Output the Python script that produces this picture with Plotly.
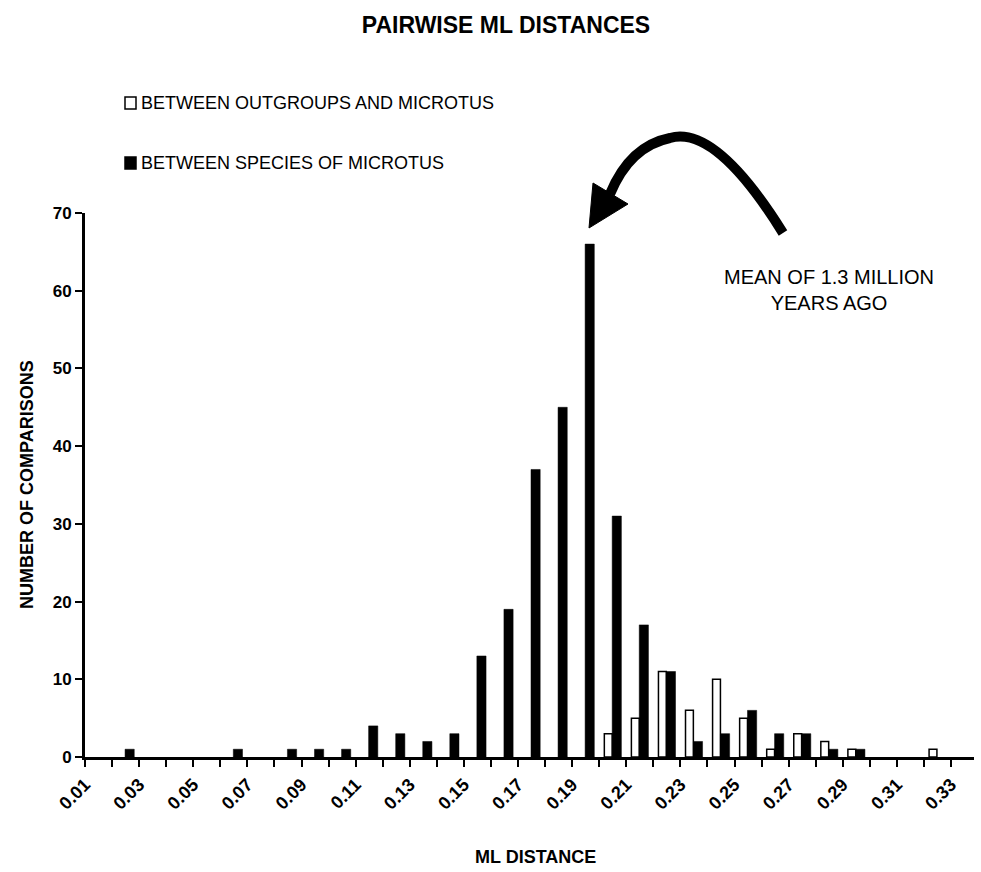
import plotly.graph_objects as go

# ---- data ----
distances = [round(0.01 * i, 2) for i in range(1, 34)]
outgroups = [0, 0, 0, 0, 0, 0, 0, 0, 0, 0,
             0, 0, 0, 0, 0, 0, 0, 0, 0, 0,
             3, 5, 11, 6, 10, 5, 1, 3, 2, 1,
             0, 0, 1]
microtus = [0, 0, 1, 0, 0, 0, 1, 0, 1, 1,
            1, 4, 3, 2, 3, 13, 19, 37, 45, 66,
            31, 17, 11, 2, 3, 6, 3, 3, 1, 1,
            0, 0, 0]
series_names = ["BETWEEN OUTGROUPS AND MICROTUS", "BETWEEN SPECIES OF MICROTUS"]
tick_labels = ["0.01", "0.03", "0.05", "0.07", "0.09", "0.11", "0.13", "0.15", "0.17",
               "0.19", "0.21", "0.23", "0.25", "0.27", "0.29", "0.31", "0.33"]
tick_vals = [float(t) for t in tick_labels]

W, H = 981, 872
L, R, T, B = 85, 7, 213, 115
XMIN, XMAX = 0.01, 0.3385
YMIN, YMAX = 0, 70
PW, PH = W - L - R, H - T - B

def fx(px):
    return (px - L) / PW

def fy(py):
    return (H - B - py) / PH

def pt(px, py):
    return f"{fx(px):.5f},{fy(py):.5f}"

FONT = "Liberation Sans, Arial, sans-serif"

fig = go.Figure()
fig.add_trace(go.Bar(
    x=distances, y=[v if v else None for v in outgroups], name=series_names[0],
    offset=-0.0081, width=0.0029,
    marker=dict(color="white", line=dict(color="black", width=1.5)),
    showlegend=False,
))
fig.add_trace(go.Bar(
    x=distances, y=[v if v else None for v in microtus], name=series_names[1],
    offset=-0.0052, width=0.0034,
    marker=dict(color="black", line=dict(color="black", width=0.5)),
    showlegend=False,
))

# curved arrow (decoration, paper coordinates)
arrow_path = ("M " + pt(783, 233) + " C " + pt(745, 172) + " " + pt(705, 128) + " " + pt(670, 138)
              + " C " + pt(640, 144) + " " + pt(622, 165) + " " + pt(610, 194))
head_path = "M " + pt(589, 228) + " L " + pt(593, 183) + " L " + pt(628, 204) + " Z"

shapes = [
    dict(type="path", xref="paper", yref="paper", path=arrow_path,
         line=dict(color="black", width=10), fillcolor="rgba(0,0,0,0)"),
    dict(type="path", xref="paper", yref="paper", path=head_path,
         line=dict(color="black", width=1), fillcolor="black"),
    # legend keys
    dict(type="rect", xref="paper", yref="paper", x0=fx(125), x1=fx(136), y0=fy(109), y1=fy(97),
         line=dict(color="black", width=1.5), fillcolor="white"),
    dict(type="rect", xref="paper", yref="paper", x0=fx(125), x1=fx(136), y0=fy(169), y1=fy(157),
         line=dict(color="black", width=1.5), fillcolor="black"),
]

annotations = [
    dict(text=series_names[0], xref="paper", yref="paper", x=fx(139), y=fy(103),
         xanchor="left", yanchor="middle", showarrow=False, font=dict(size=18)),
    dict(text=series_names[1], xref="paper", yref="paper", x=fx(139), y=fy(163),
         xanchor="left", yanchor="middle", showarrow=False, font=dict(size=18)),
    dict(text="MEAN OF 1.3 MILLION<br>YEARS AGO", xref="paper", yref="paper",
         x=fx(829), y=fy(290), xanchor="center", yanchor="middle",
         showarrow=False, font=dict(size=20), align="center"),
    dict(text="<b>NUMBER OF COMPARISONS</b>", xref="paper", yref="paper",
         x=fx(27), y=fy(485), xanchor="center", yanchor="middle",
         textangle=-90, showarrow=False, font=dict(size=18)),
    dict(text="<b>ML DISTANCE</b>", xref="paper", yref="paper",
         x=fx(535), y=fy(857), xanchor="center", yanchor="middle",
         showarrow=False, font=dict(size=18)),
]

fig.update_layout(
    width=W, height=H,
    margin=dict(l=L, r=R, t=T, b=B),
    plot_bgcolor="white", paper_bgcolor="white",
    barmode="overlay",
    showlegend=False,
    font=dict(family=FONT, color="black"),
    title=dict(text="<b>PAIRWISE ML DISTANCES</b>", x=506 / W, xanchor="center",
               y=1 - 25 / H, yanchor="middle", font=dict(size=23, color="black")),
    xaxis=dict(range=[XMIN, XMAX], tickvals=tick_vals, ticktext=[f"<b>{t}</b>" for t in tick_labels],
               tickangle=-45, ticks="outside", ticklen=7, tickwidth=2, tickcolor="black",
               showline=True, linewidth=3, linecolor="black", showgrid=False, zeroline=False,
               tickfont=dict(size=18),
               minor=dict(ticks="outside", dtick=0.01, tick0=0.01, ticklen=7, tickwidth=2,
                          tickcolor="black", showgrid=False)),
    yaxis=dict(range=[YMIN, YMAX], dtick=10, ticks="outside", ticklen=7, tickwidth=2,
               tickcolor="black", showline=True, linewidth=3, linecolor="black",
               showgrid=False, zeroline=False, tickfont=dict(size=17),
               tickprefix="<b>", ticksuffix="</b>"),
    shapes=shapes,
    annotations=annotations,
)

fig.write_html("out.html")
